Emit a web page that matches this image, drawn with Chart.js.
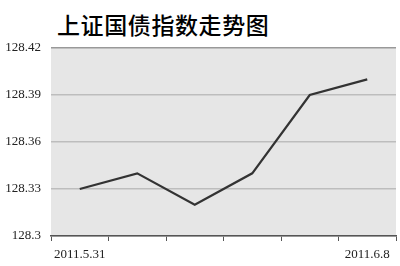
<!DOCTYPE html>
<html>
<head>
<meta charset="utf-8">
<script src="https://cdn.jsdelivr.net/npm/chart.js@4"></script>
<style>
  html, body { margin: 0; padding: 0; background: #fff; }
  #wrap { position: relative; width: 400px; height: 266px; }
  #title {
    position: absolute; left: 57px; top: 9px;
    font-family: "Noto Sans CJK SC", sans-serif; font-size: 23px; font-weight: 500;
    color: #000; line-height: 30px; letter-spacing: 0.6px; white-space: nowrap;
  }
  canvas { position: absolute; left: 0; top: 0; }
</style>
</head>
<body>
<div id="wrap">
  <div id="title">上证国债指数走势图</div>
  <canvas id="myChart" width="400" height="266"></canvas>
</div>
<script>
// 交易日
const dates = ['2011.5.31', '2011.6.1', '2011.6.2', '2011.6.3', '2011.6.7', '2011.6.8'];
// 指数值
const values = [128.33, 128.34, 128.32, 128.34, 128.39, 128.40];
// y축 범위
const Y_MIN = 128.3;
const Y_MAX = 128.42;
const Y_STEP = 0.03;

// 차트 영역 배경
const areaBg = {
  id: 'areaBg',
  beforeDraw(chart) {
    const a = chart.chartArea;
    const c = chart.ctx;
    c.save();
    c.fillStyle = '#e6e6e6';
    c.fillRect(a.left, a.top, a.right - a.left, a.bottom - a.top);
    c.restore();
  }
};

const ctx = document.getElementById('myChart').getContext('2d');
const myChart = new Chart(ctx, {
  type: 'line',
  data: {
    labels: dates,
    datasets: [{
      data: values,
      borderColor: '#333333',
      borderWidth: 2.2,
      pointRadius: 0,
      tension: 0
    }]
  },
  options: {
    responsive: false,
    animation: false,
    layout: { padding: { top: 48, right: 4, left: 0, bottom: 0 } },
    plugins: {
      legend: { display: false },
      title: { display: false },
      tooltip: { enabled: false }
    },
    scales: {
      x: {
        offset: true,
        grid: {
          offset: true,
          drawOnChartArea: false,
          drawTicks: true,
          tickLength: 5,
          color: '#555555',
          lineWidth: 1
        },
        border: { display: true, color: '#555555', width: 1.5 },
        ticks: {
          autoSkip: false,
          maxRotation: 0,
          padding: 6,
          color: '#222',
          font: { family: 'Liberation Serif', size: 13 },
          callback: function(value, index) {
            return (index === 0 || index === dates.length - 1) ? dates[index] : '';
          }
        },
        afterFit(scale) { scale.height = 30; }
      },
      y: {
        min: Y_MIN,
        max: Y_MAX,
        grid: {
          drawTicks: false,
          color: function(c) { return c.index === 4 ? '#999999' : '#bdbdbd'; },
          lineWidth: 1.5
        },
        border: { display: false },
        ticks: {
          stepSize: Y_STEP,
          padding: 10,
          color: '#222',
          font: { family: 'Liberation Serif', size: 13 },
          callback: function(value) {
            return String(parseFloat(value.toFixed(2)));
          }
        },
        afterFit(scale) { scale.width = 51; }
      }
    }
  },
  plugins: [areaBg]
});
</script>
</body>
</html>
